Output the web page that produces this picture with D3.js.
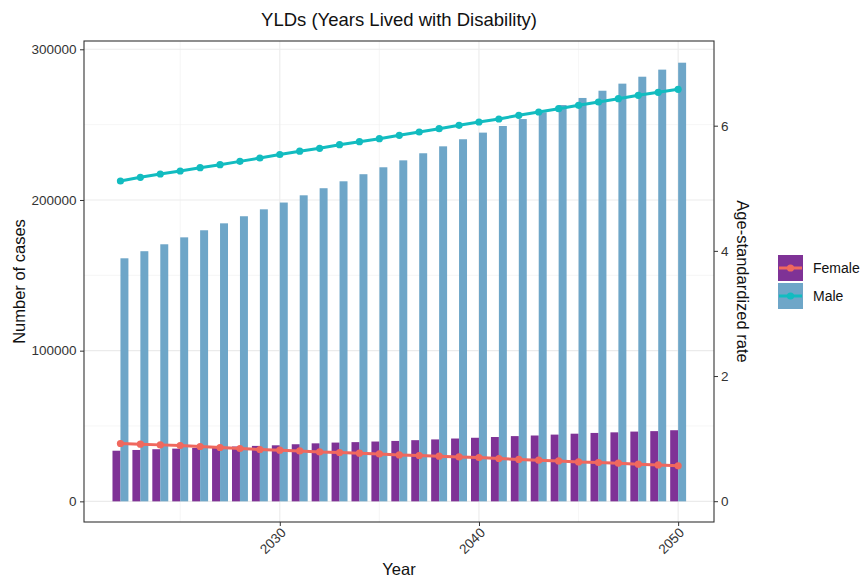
<!DOCTYPE html>
<html><head><meta charset="utf-8">
<script src="https://cdn.jsdelivr.net/npm/d3@7"></script>
<style>body{margin:0;background:#fff}svg{display:block;font-family:"Liberation Sans",Arial,sans-serif}</style>
</head><body><svg id="c" width="865" height="581"></svg>
<script>
const years = d3.range(2022, 2051);
const femaleCases = [33.6,34.1,34.6,35.0,35.5,35.9,36.4,36.8,37.2,37.9,38.5,39.0,39.3,39.7,40.1,40.6,41.1,41.7,42.2,42.7,43.3,43.7,44.3,44.9,45.4,45.8,46.3,46.6,47.2].map(v=>v*1000);
const maleCases = [161.3,166.0,170.6,175.2,179.9,184.5,189.2,193.8,198.3,203.1,207.8,212.4,217.1,221.7,226.3,231.0,235.6,240.3,244.7,249.1,253.7,258.2,263.0,267.7,272.5,277.2,281.8,286.5,291.1].map(v=>v*1000);
const femaleRate = [0.922,0.911,0.900,0.890,0.874,0.858,0.842,0.826,0.815,0.804,0.788,0.778,0.767,0.756,0.740,0.730,0.719,0.708,0.698,0.682,0.668,0.655,0.644,0.628,0.618,0.607,0.592,0.580,0.565];
const maleRate = [5.116,5.175,5.228,5.276,5.329,5.377,5.430,5.484,5.540,5.593,5.639,5.697,5.745,5.792,5.847,5.899,5.952,6.006,6.059,6.107,6.166,6.219,6.272,6.326,6.379,6.432,6.486,6.534,6.582];
const sexes = ["Female","Male"];
const xTicks = [2030,2040,2050];
const xMinor = [2025,2035,2045];
const yTicks = [0,100000,200000,300000];
const yMinor = [50000,150000,250000];
const rTicks = [0,2,4,6];

const barColor = {Female:"#7f3296", Male:"#6ea6c8"};
const lineColor = {Female:"#f0685e", Male:"#12bcc0"};

const L=84,R=714,T=41,B=522;
const svg = d3.select("#c");
const x = d3.scaleLinear().domain([2020.17,2051.8]).range([L,R]);
const y = d3.scaleLinear().domain([-13700,305500]).range([B,T]);
const yr = d3.scaleLinear().domain([0,6]).range([501.2,125.7]);

// grid
const g = svg.append("g");
g.selectAll(".vm").data(xMinor).join("line").attr("x1",d=>x(d)).attr("x2",d=>x(d)).attr("y1",T).attr("y2",B).attr("stroke","#f0f0f0").attr("stroke-width",0.6);
g.selectAll(".hm").data(yMinor).join("line").attr("y1",d=>y(d)).attr("y2",d=>y(d)).attr("x1",L).attr("x2",R).attr("stroke","#f0f0f0").attr("stroke-width",0.6);
g.selectAll(".vM").data(xTicks).join("line").attr("x1",d=>x(d)).attr("x2",d=>x(d)).attr("y1",T).attr("y2",B).attr("stroke","#ebebeb").attr("stroke-width",1.1);
g.selectAll(".hM").data(yTicks).join("line").attr("y1",d=>y(d)).attr("y2",d=>y(d)).attr("x1",L).attr("x2",R).attr("stroke","#ebebeb").attr("stroke-width",1.1);

// bars
const bw = 0.4;
const cases = {Female:femaleCases, Male:maleCases};
const rates = {Female:femaleRate, Male:maleRate};
sexes.forEach((s,si)=>{
  svg.append("g").selectAll("rect").data(years).join("rect")
    .attr("x",(d)=>x(d - bw + si*bw))
    .attr("width",x(2000+bw)-x(2000))
    .attr("y",(d,i)=>y(cases[s][i]))
    .attr("height",(d,i)=>y(0)-y(cases[s][i]))
    .attr("fill",barColor[s]);
});
// lines
sexes.forEach(s=>{
  const pts = years.map((d,i)=>[d,rates[s][i]]);
  svg.append("path").datum(pts).attr("fill","none").attr("stroke",lineColor[s]).attr("stroke-width",3)
    .attr("d",d3.line().x(d=>x(d[0])).y(d=>yr(d[1])));
  svg.append("g").selectAll("circle").data(pts).join("circle")
    .attr("cx",d=>x(d[0])).attr("cy",d=>yr(d[1])).attr("r",3.6).attr("fill",lineColor[s]);
});

// border
svg.append("rect").attr("x",L).attr("y",T).attr("width",R-L).attr("height",B-T).attr("fill","none").attr("stroke","#333").attr("stroke-width",1.1);

// axes
const ax = d3.axisBottom(x).tickValues(xTicks).tickFormat(d3.format("d")).tickSize(4).tickSizeOuter(0);
const axg = svg.append("g").attr("transform",`translate(0,${B})`).call(ax);
axg.select(".domain").remove();
axg.selectAll("line").attr("stroke","#333");
axg.selectAll("text").attr("font-size",13.5).attr("fill","#333").attr("text-anchor","end")
  .attr("dy",null).attr("y",null)
  .attr("transform","translate(4,9) rotate(-45)").attr("dominant-baseline","middle");

const ay = d3.axisLeft(y).tickValues(yTicks).tickFormat(d3.format("d")).tickSize(4).tickSizeOuter(0);
const ayg = svg.append("g").attr("transform",`translate(${L},0)`).call(ay);
ayg.select(".domain").remove();
ayg.selectAll("line").attr("stroke","#333");
ayg.selectAll("text").attr("font-size",13.5).attr("fill","#333").attr("x",-7.5);

const ar = d3.axisRight(yr).tickValues(rTicks).tickFormat(d3.format("d")).tickSize(4).tickSizeOuter(0);
const arg = svg.append("g").attr("transform",`translate(${R},0)`).call(ar);
arg.select(".domain").remove();
arg.selectAll("line").attr("stroke","#333");
arg.selectAll("text").attr("font-size",13.5).attr("fill","#333").attr("x",7);

// titles
svg.append("text").attr("x",(L+R)/2).attr("y",26).attr("text-anchor","middle").attr("font-size",18.5).attr("fill","#111").text("YLDs (Years Lived with Disability)");
svg.append("text").attr("x",(L+R)/2).attr("y",575).attr("text-anchor","middle").attr("font-size",16.5).attr("fill","#111").text("Year");
svg.append("text").attr("transform",`translate(25,${(T+B)/2}) rotate(-90)`).attr("text-anchor","middle").attr("font-size",16.5).attr("fill","#111").text("Number of cases");
svg.append("text").attr("transform",`translate(737,${(T+B)/2}) rotate(90)`).attr("text-anchor","middle").attr("font-size",16.5).attr("fill","#111").text("Age-standardized rate");

// legend
const lg = svg.append("g").attr("transform","translate(778,255)");
sexes.forEach((s,i)=>{
  const k = lg.append("g").attr("transform",`translate(0,${i*28})`);
  k.append("rect").attr("width",25).attr("height",26).attr("fill",barColor[s]);
  k.append("line").attr("x1",1).attr("x2",24).attr("y1",13).attr("y2",13).attr("stroke",lineColor[s]).attr("stroke-width",3);
  k.append("circle").attr("cx",12.5).attr("cy",13).attr("r",3.6).attr("fill",lineColor[s]);
  k.append("text").attr("x",35).attr("y",13).attr("dy","0.35em").attr("font-size",14).attr("fill","#111").text(s);
});
</script></body></html>
